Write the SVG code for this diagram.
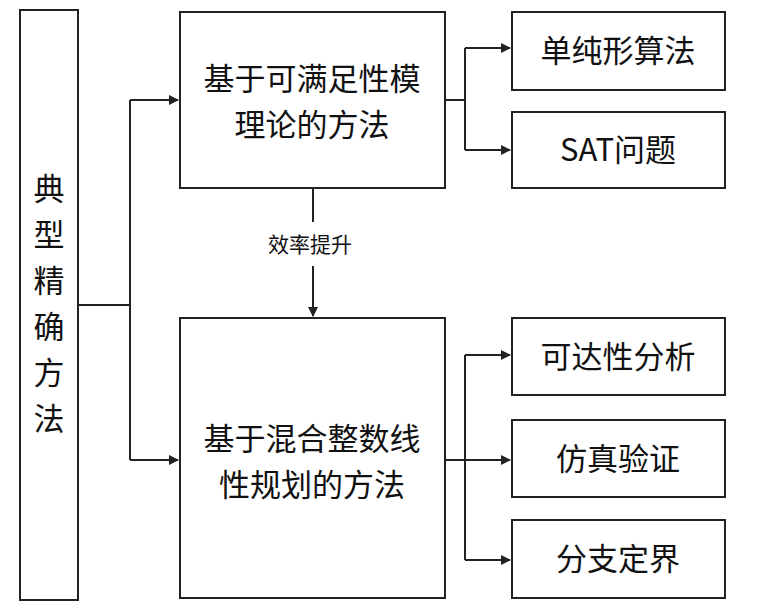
<svg xmlns="http://www.w3.org/2000/svg" width="758" height="613" viewBox="0 0 758 613">
<style>
.b{fill:#fff;stroke:#222;stroke-width:2}
.t{font-family:"Noto Sans CJK SC","Liberation Sans",sans-serif;font-size:31px;fill:#111;text-anchor:middle}
.c{fill:none;stroke:#222;stroke-width:2}
</style>
<defs><marker id="a" markerWidth="10" markerHeight="10" refX="9" refY="5" orient="auto" markerUnits="userSpaceOnUse"><path d="M0,0 L10,5 L0,10 z" fill="#222"/></marker></defs>
<rect width="758" height="613" fill="#fff"/>
<g id="connectors">
<path class="c" d="M78,305 H130 M130,100 V460"/>
<path class="c" d="M130,100 H178" marker-end="url(#a)"/>
<path class="c" d="M130,460 H178" marker-end="url(#a)"/>
<path class="c" d="M445,100 H465 M465,48 V150"/>
<path class="c" d="M465,48 H510" marker-end="url(#a)"/>
<path class="c" d="M465,150 H510" marker-end="url(#a)"/>
<path class="c" d="M445,460 H465 M465,355 V560"/>
<path class="c" d="M465,355 H510" marker-end="url(#a)"/>
<path class="c" d="M465,460 H510" marker-end="url(#a)"/>
<path class="c" d="M465,560 H510" marker-end="url(#a)"/>
<path class="c" d="M313,188 V222 M313,266 V316" marker-end="url(#a)"/>
<text x="310" y="252" style="font-family:'Noto Sans CJK SC',sans-serif;font-size:21px;fill:#111" text-anchor="middle">效率提升</text>
</g>
<g id="root"><rect class="b" x="20" y="10" width="58" height="590"/>
<text class="t" x="49" y="200">典</text><text class="t" x="49" y="246">型</text><text class="t" x="49" y="292">精</text><text class="t" x="49" y="338">确</text><text class="t" x="49" y="384">方</text><text class="t" x="49" y="430">法</text></g>
<g id="A"><rect class="b" x="180" y="12" width="265" height="176"/><text class="t" x="312" y="90">基于可满足性模</text><text class="t" x="312" y="136">理论的方法</text></g>
<g id="B"><rect class="b" x="180" y="318" width="265" height="280"/><text class="t" x="312" y="450">基于混合整数线</text><text class="t" x="312" y="496">性规划的方法</text></g>
<g id="r1"><rect class="b" x="512" y="12" width="213" height="78"/><text class="t" x="618" y="62">单纯形算法</text></g>
<g id="r2"><rect class="b" x="512" y="112" width="213" height="76"/><text class="t" x="618" y="161">SAT问题</text></g>
<g id="r3"><rect class="b" x="512" y="318" width="213" height="77"/><text class="t" x="618" y="368">可达性分析</text></g>
<g id="r4"><rect class="b" x="512" y="420" width="213" height="77"/><text class="t" x="618" y="470">仿真验证</text></g>
<g id="r5"><rect class="b" x="512" y="520" width="213" height="78"/><text class="t" x="618" y="570">分支定界</text></g>
</svg>
